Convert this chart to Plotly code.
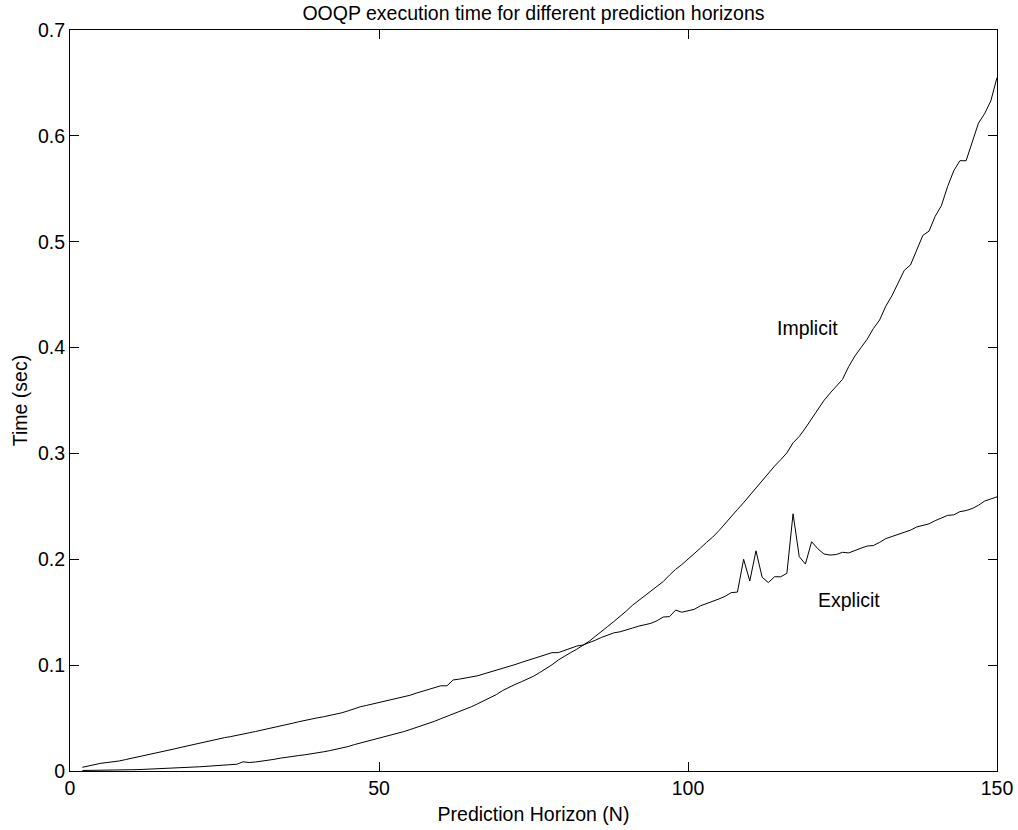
import plotly.graph_objects as go

horizon = list(range(2, 151))

implicit_time = [
    0.0005, 0.0005, 0.0006, 0.0006, 0.0007, 0.0008, 0.0009, 0.0010, 0.0012,  # 2-10
    0.0013, 0.0015, 0.0017, 0.0019, 0.0022, 0.0025, 0.0028, 0.0031, 0.0034, 0.0037,  # 11-20
    0.0040, 0.0044, 0.0047, 0.0051, 0.0055, 0.0059, 0.0064, 0.0087, 0.0080, 0.0085,  # 21-30
    0.0092, 0.0100, 0.0110, 0.0121, 0.0131, 0.0139, 0.0146, 0.0153, 0.0160, 0.0170,  # 31-40
    0.0181, 0.0192, 0.0203, 0.0216, 0.0231, 0.0249, 0.0264, 0.0279, 0.0293, 0.0306,  # 41-50
    0.0320, 0.0336, 0.0354, 0.0372, 0.0391, 0.0409, 0.0428, 0.0448, 0.0470, 0.0494,  # 51-60
    0.0516, 0.0538, 0.0560, 0.0584, 0.0608, 0.0636, 0.0664, 0.0692, 0.0722, 0.0760,  # 61-70
    0.0790, 0.0817, 0.0842, 0.0866, 0.0895, 0.0930, 0.0966, 0.1004, 0.1048, 0.1085,  # 71-80
    0.1118, 0.1150, 0.1185, 0.1225, 0.1272, 0.1315, 0.1365, 0.1412, 0.1458, 0.1510,  # 81-90
    0.1565, 0.1610, 0.1655, 0.1700, 0.1745, 0.1790, 0.1850, 0.1905, 0.1950, 0.2000,  # 91-100
    0.2050, 0.2105, 0.2160, 0.2210, 0.2270, 0.2340, 0.2400, 0.2470, 0.2535, 0.2605,  # 101-110
    0.2680, 0.2740, 0.2810, 0.2880, 0.2940, 0.3005, 0.3100, 0.3160, 0.3240, 0.3330,  # 111-120
    0.3415, 0.3500, 0.3570, 0.3640, 0.3700, 0.3820, 0.3920, 0.4000, 0.4080, 0.4180,  # 121-130
    0.4260, 0.4390, 0.4490, 0.4610, 0.4730, 0.4780, 0.4920, 0.5060, 0.5100, 0.5240,  # 131-140
    0.5340, 0.5520, 0.5670, 0.5765, 0.5765, 0.5950, 0.6120, 0.6210, 0.6330, 0.6550,  # 141-150
]

explicit_time = [
    0.0035, 0.0050, 0.0064, 0.0073, 0.0080, 0.0085, 0.0095, 0.0108, 0.0120,  # 2-10
    0.0132, 0.0144, 0.0157, 0.0170, 0.0183, 0.0196, 0.0210, 0.0224, 0.0238, 0.0252,  # 11-20
    0.0266, 0.0280, 0.0293, 0.0304, 0.0315, 0.0325, 0.0335, 0.0348, 0.0361, 0.0373,  # 21-30
    0.0385, 0.0398, 0.0411, 0.0424, 0.0437, 0.0451, 0.0465, 0.0479, 0.0492, 0.0502,  # 31-40
    0.0512, 0.0524, 0.0537, 0.0550, 0.0568, 0.0590, 0.0607, 0.0620, 0.0633, 0.0645,  # 41-50
    0.0658, 0.0672, 0.0686, 0.0700, 0.0715, 0.0735, 0.0752, 0.0768, 0.0790, 0.0805,  # 51-60
    0.0805, 0.0860, 0.0868, 0.0877, 0.0888, 0.0900, 0.0918, 0.0935, 0.0950, 0.0965,  # 61-70
    0.0985, 0.1005, 0.1025, 0.1045, 0.1060, 0.1078, 0.1098, 0.1118, 0.1118, 0.1140,  # 71-80
    0.1165, 0.1180, 0.1190, 0.1210, 0.1235, 0.1262, 0.1285, 0.1305, 0.1315, 0.1330,  # 81-90
    0.1350, 0.1368, 0.1380, 0.1395, 0.1420, 0.1455, 0.1458, 0.1520, 0.1500, 0.1515,  # 91-100
    0.1527, 0.1560, 0.1580, 0.1605, 0.1625, 0.1650, 0.1685, 0.1690, 0.2000, 0.1795,  # 101-110
    0.2080, 0.1830, 0.1780, 0.1835, 0.1835, 0.1867, 0.2430, 0.2025, 0.1955, 0.2166,  # 111-120
    0.2100, 0.2050, 0.2040, 0.2045, 0.2066, 0.2060, 0.2085, 0.2105, 0.2125, 0.2130,  # 121-130
    0.2160, 0.2195, 0.2215, 0.2235, 0.2255, 0.2275, 0.2305, 0.2320, 0.2335, 0.2365,  # 131-140
    0.2390, 0.2415, 0.2420, 0.2450, 0.2460, 0.2480, 0.2510, 0.2550, 0.2570, 0.2590,  # 141-150
]

x_ticks = [0, 50, 100, 150]
y_ticks = [0, 0.1, 0.2, 0.3, 0.4, 0.5, 0.6, 0.7]
y_tick_labels = ["0", "0.1", "0.2", "0.3", "0.4", "0.5", "0.6", "0.7"]

labels = ["Implicit", "Explicit"]
label_x = [119.3, 126.0]
label_y = [0.4185, 0.1615]

FONT = "Liberation Sans, Arial, Helvetica, sans-serif"
FS = 19.5

fig = go.Figure()
fig.add_trace(go.Scatter(x=horizon, y=implicit_time, mode="lines",
                         line=dict(color="black", width=1), name=labels[0]))
fig.add_trace(go.Scatter(x=horizon, y=explicit_time, mode="lines",
                         line=dict(color="black", width=1), name=labels[1]))

for t, lx, ly in zip(labels, label_x, label_y):
    fig.add_annotation(x=lx, y=ly, text=t, showarrow=False,
                       font=dict(family=FONT, size=FS, color="black"))

axis_common = dict(showgrid=False, zeroline=False, showline=True, linecolor="black",
                   linewidth=1, mirror="ticks", ticks="inside", ticklen=9,
                   tickcolor="black", tickwidth=1, automargin=False,
                   tickfont=dict(family=FONT, size=FS, color="black"))

fig.update_xaxes(range=[0, 150], tickmode="array", tickvals=x_ticks,
                 title=dict(text="Prediction Horizon (N)", standoff=8,
                            font=dict(family=FONT, size=FS, color="black")),
                 **axis_common)
fig.update_yaxes(range=[0, 0.7], tickmode="array", tickvals=y_ticks,
                 ticktext=y_tick_labels,
                 title=dict(text="Time (sec)", standoff=5,
                            font=dict(family=FONT, size=FS, color="black")),
                 **axis_common)

fig.update_layout(
    width=1018, height=830,
    margin=dict(l=70, r=21, t=30, b=59),
    paper_bgcolor="white", plot_bgcolor="white",
    showlegend=False,
    title=dict(text="OOQP execution time for different prediction horizons",
               xref="paper", x=0.5, xanchor="center",
               yref="container", y=1 - 13 / 830, yanchor="middle",
               automargin=False,
               font=dict(family=FONT, size=FS, color="black")),
)

fig.write_html("out.html")
